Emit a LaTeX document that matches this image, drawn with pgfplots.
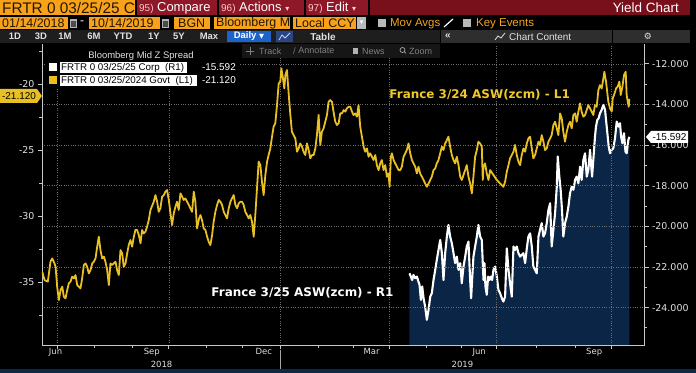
\documentclass[border=0pt]{standalone}
\usepackage{pgfplots}
\pgfplotsset{compat=1.18}
\usepackage{pgfplotstable}
\usepackage{fontspec}
\setmainfont{Liberation Sans}
\newfontfamily\dvs{DejaVu Sans}
\newcommand{\fs}[1]{\fontsize{#1}{#1}\selectfont}

\definecolor{bbyellow}{RGB}{232,192,36}
\definecolor{annyellow}{RGB}{240,200,40}
\definecolor{bbnavy}{RGB}{11,37,70}
\definecolor{bborange}{RGB}{248,162,28}
\definecolor{bbred}{RGB}{120,16,28}
\definecolor{bbred2}{RGB}{142,24,40}
\definecolor{rowgray}{RGB}{30,30,30}
\definecolor{panelgray}{RGB}{46,46,46}
\definecolor{gridgray}{RGB}{110,110,110}
\definecolor{axisgray}{RGB}{200,200,200}
\definecolor{labelgray}{RGB}{225,225,225}
\definecolor{darktext}{RGB}{35,22,0}
\definecolor{dailyblue}{RGB}{28,98,200}
\definecolor{stripnavy}{RGB}{14,40,72}
\definecolor{iconblue}{RGB}{40,70,130}
\definecolor{row4gray}{RGB}{22,22,22}

\pgfplotstableread{
x y
-196.4 -34.20
-194.5 -34.83
-191.8 -34.95
-189.6 -33.44
-188.2 -33.19
-186.3 -33.57
-185.4 -33.82
-184.1 -35.33
-182.7 -36.34
-181.3 -35.58
-179.9 -35.33
-178.6 -36.09
-177.2 -36.21
-175.8 -35.58
-174.5 -35.08
-173.1 -34.95
-171.7 -34.57
-170.3 -34.70
-169.0 -34.45
-167.6 -35.20
-166.2 -35.33
-164.9 -35.46
-163.5 -34.70
-162.1 -33.69
-160.7 -33.57
-159.4 -33.82
-158.0 -34.32
-156.6 -34.07
-155.2 -33.57
-153.9 -33.44
-152.5 -33.19
-151.1 -32.30
-149.8 -31.55
-148.4 -32.56
-147.0 -33.19
-145.6 -33.06
-144.3 -33.44
-142.9 -34.07
-141.5 -35.20
-140.2 -33.57
-138.8 -33.69
-137.4 -33.57
-136.0 -33.44
-134.7 -34.07
-133.3 -34.45
-131.9 -32.56
-130.5 -32.81
-129.2 -33.82
-127.8 -33.57
-126.4 -32.81
-125.1 -32.18
-123.7 -31.80
-122.3 -32.30
-120.9 -31.55
-119.6 -31.04
-118.2 -31.04
-116.8 -31.42
-115.4 -32.05
-114.1 -31.04
-112.7 -31.30
-111.3 -31.17
-110.0 -30.79
-108.6 -30.29
-107.2 -29.53
-104.5 -28.90
-103.1 -28.40
-101.7 -28.90
-100.4 -29.66
-99.0 -29.40
-97.6 -28.52
-96.2 -28.40
-94.9 -28.14
-93.5 -28.02
-92.1 -28.77
-90.7 -29.78
-89.4 -30.67
-88.0 -29.78
-86.6 -29.28
-85.3 -28.90
-83.9 -29.53
-82.5 -28.27
-81.1 -28.52
-79.8 -28.77
-78.4 -28.65
-77.0 -28.90
-75.6 -29.15
-74.3 -29.40
-72.9 -29.66
-71.5 -28.14
-70.2 -28.90
-68.8 -30.92
-67.1 -30.16
-66.0 -29.91
-64.7 -30.29
-63.3 -30.92
-61.9 -31.04
-60.5 -31.55
-59.2 -31.93
-57.8 -32.18
-56.4 -31.42
-55.1 -30.41
-53.7 -29.66
-52.3 -29.15
-50.9 -28.77
-49.6 -28.90
-48.2 -29.15
-46.8 -29.66
-45.5 -29.91
-44.1 -30.16
-42.7 -29.40
-41.3 -28.90
-40.0 -28.65
-38.6 -28.40
-37.2 -29.15
-35.8 -29.40
-34.5 -29.03
-33.1 -28.90
-31.7 -28.90
-30.4 -29.15
-29.0 -29.66
-27.6 -29.91
-26.2 -30.16
-24.9 -29.91
-23.5 -30.41
-22.1 -31.55
-20.8 -29.91
-19.4 -27.89
-18.0 -25.87
-16.6 -26.13
-15.3 -27.39
-13.9 -28.40
-12.5 -26.88
-11.1 -25.87
-9.8 -25.37
-8.4 -24.87
-7.0 -23.98
-5.7 -23.23
-4.3 -22.97
-2.9 -21.59
-1.5 -19.95
-0.2 -19.82
0.7 -18.81
2.0 -19.57
3.1 -20.33
4.0 -19.32
5.3 -18.94
6.7 -20.71
8.1 -22.34
9.4 -23.61
10.8 -23.86
12.2 -24.11
13.6 -25.12
14.9 -24.87
16.3 -24.49
17.7 -24.74
19.0 -25.12
20.4 -25.37
21.8 -24.49
23.2 -24.99
24.5 -25.62
25.9 -25.37
27.3 -25.37
28.7 -24.87
30.0 -23.86
31.4 -22.34
32.8 -24.61
34.1 -23.61
35.5 -23.35
36.9 -22.85
38.3 -22.34
39.6 -21.34
41.0 -21.21
42.4 -21.34
43.7 -22.09
45.1 -22.85
46.5 -23.10
47.9 -22.97
49.2 -22.22
50.6 -22.22
52.0 -21.97
53.4 -22.09
54.7 -21.84
56.1 -21.72
57.5 -21.72
58.9 -22.09
60.2 -22.34
61.6 -22.22
63.0 -22.47
64.3 -21.59
65.7 -23.23
67.1 -23.98
68.5 -24.74
69.8 -25.12
71.2 -24.87
72.6 -25.50
73.9 -25.24
75.3 -25.50
76.7 -25.75
78.1 -25.37
79.4 -26.13
80.8 -26.51
82.2 -26.00
83.5 -25.75
84.9 -26.51
86.3 -26.13
87.7 -27.01
89.0 -26.76
89.9 -27.77
91.0 -25.50
91.8 -25.24
93.2 -25.75
94.5 -26.00
95.9 -26.25
97.3 -26.51
98.7 -26.51
100.0 -26.25
101.4 -25.50
102.8 -25.24
104.1 -24.99
105.5 -24.49
106.9 -25.24
108.3 -25.75
109.6 -26.00
111.0 -26.25
112.4 -26.76
113.7 -26.25
115.1 -26.76
116.5 -27.01
117.9 -27.26
119.2 -27.52
120.6 -27.77
122.0 -27.52
123.4 -27.26
124.7 -27.01
126.1 -26.51
127.5 -26.38
128.8 -26.00
130.2 -25.75
131.6 -25.24
133.0 -24.74
134.3 -24.99
135.7 -24.49
137.1 -24.24
138.4 -23.98
139.8 -24.74
141.2 -25.37
142.6 -25.75
143.9 -26.00
145.3 -25.50
146.7 -26.13
148.1 -27.01
149.4 -27.26
150.8 -26.88
152.2 -26.51
153.5 -26.13
154.9 -27.01
156.3 -27.52
157.7 -28.27
159.0 -27.01
160.4 -25.50
161.8 -24.99
163.1 -24.36
164.5 -24.49
165.9 -24.74
166.7 -27.26
167.3 -26.25
168.6 -26.00
170.0 -26.76
171.4 -27.26
172.8 -26.51
175.5 -26.88
178.3 -27.26
181.0 -27.52
183.7 -27.77
185.1 -27.39
186.5 -26.63
187.9 -26.13
189.2 -25.62
192.0 -25.12
193.3 -24.61
194.7 -25.37
196.1 -25.88
197.5 -26.13
198.8 -25.37
200.2 -24.87
201.6 -25.12
203.0 -24.49
204.3 -24.11
205.7 -23.98
207.1 -24.87
208.4 -25.62
209.8 -25.37
211.2 -24.87
212.6 -24.36
213.9 -24.61
215.3 -23.86
216.7 -24.36
218.0 -24.99
219.4 -24.87
220.8 -24.36
222.2 -24.11
223.5 -23.86
224.9 -23.10
226.3 -22.85
227.7 -23.35
229.0 -23.86
230.4 -22.22
231.8 -22.60
233.1 -23.61
234.5 -24.36
235.9 -23.61
237.3 -23.10
238.6 -22.85
240.0 -23.35
241.4 -22.34
242.8 -22.22
244.1 -22.85
245.5 -22.09
246.9 -21.46
248.2 -22.09
249.6 -22.47
251.0 -22.34
252.4 -21.97
253.7 -21.59
255.1 -21.84
256.5 -22.09
257.8 -22.34
259.2 -21.59
260.6 -21.72
262.0 -20.45
263.3 -20.08
264.7 -20.33
266.1 -19.57
266.9 -19.07
268.3 -19.82
269.4 -20.71
270.2 -21.34
271.6 -21.84
273.0 -22.09
273.8 -21.08
274.9 -20.83
276.6 -20.33
277.9 -20.20
279.3 -19.82
280.4 -20.83
281.8 -20.20
283.1 -19.32
284.5 -19.07
285.3 -20.83
286.2 -21.34
287.0 -21.72
287.5 -21.12
}\yellowdata

\pgfplotstableread{
x y
106.3 -22.31
107.4 -22.47
108.5 -22.64
109.6 -22.39
111.0 -22.55
112.4 -22.47
113.7 -22.72
114.6 -22.88
115.7 -23.62
116.8 -22.96
117.9 -23.54
119.2 -23.95
120.6 -24.60
122.0 -24.11
123.4 -23.46
124.7 -23.29
126.1 -22.64
127.5 -22.14
128.8 -21.65
130.2 -21.16
131.6 -20.67
133.0 -21.32
134.3 -22.64
135.7 -21.32
137.1 -20.50
138.4 -19.93
139.8 -20.50
141.2 -20.83
142.6 -21.32
143.9 -21.81
145.3 -21.49
146.7 -22.14
148.1 -21.81
149.4 -22.80
150.8 -21.98
152.2 -21.49
153.5 -20.99
154.9 -20.75
156.3 -22.64
157.1 -23.54
157.9 -22.64
159.0 -21.49
160.4 -20.99
161.8 -20.50
163.1 -19.93
164.5 -20.50
165.9 -20.67
167.3 -22.64
168.1 -21.81
168.9 -22.96
170.0 -23.37
171.1 -22.47
172.2 -22.64
173.3 -22.47
174.4 -22.64
175.5 -22.14
176.9 -21.98
178.3 -22.47
179.6 -23.13
181.0 -23.29
182.4 -23.54
183.7 -23.70
185.1 -23.46
186.5 -21.08
187.9 -22.14
189.2 -22.80
190.6 -23.46
192.0 -20.99
193.3 -21.16
194.7 -20.99
196.1 -21.32
197.5 -21.49
198.8 -21.40
200.2 -21.32
201.6 -21.81
203.0 -21.08
204.3 -20.50
205.7 -20.34
207.1 -20.99
208.4 -21.98
209.8 -22.14
211.2 -22.31
212.6 -20.50
213.9 -20.17
215.3 -19.84
216.7 -20.50
218.0 -20.34
219.4 -19.84
220.8 -19.19
222.2 -18.86
223.5 -20.99
224.9 -20.17
226.3 -19.35
227.7 -18.04
228.5 -16.56
229.8 -17.55
230.9 -18.20
232.0 -19.19
233.1 -20.50
234.5 -19.84
235.9 -19.52
237.3 -19.02
238.6 -18.37
240.0 -18.04
241.4 -18.20
242.8 -17.71
244.1 -17.55
245.5 -17.88
246.9 -17.06
248.2 -17.71
249.6 -16.73
251.0 -16.40
252.4 -17.55
253.7 -17.22
255.1 -16.23
255.9 -16.89
256.8 -17.55
257.8 -16.73
259.2 -15.58
260.0 -15.09
261.1 -14.76
262.2 -14.68
263.3 -14.43
264.7 -14.26
266.1 -14.02
267.5 -14.26
268.3 -14.76
269.4 -15.41
270.5 -16.07
271.6 -16.40
273.0 -16.23
274.3 -16.15
275.7 -15.66
277.1 -14.84
278.5 -15.09
279.8 -14.92
280.7 -15.58
281.8 -15.91
283.1 -15.41
284.3 -16.32
285.3 -16.40
286.7 -15.74
287.5 -15.592
}\whitedata

% area under the white series: same points, closed at the bottom of the axis
\pgfplotstableread{
x y
106.3 -25.84
106.3 -22.31
107.4 -22.47
108.5 -22.64
109.6 -22.39
111.0 -22.55
112.4 -22.47
113.7 -22.72
114.6 -22.88
115.7 -23.62
116.8 -22.96
117.9 -23.54
119.2 -23.95
120.6 -24.60
122.0 -24.11
123.4 -23.46
124.7 -23.29
126.1 -22.64
127.5 -22.14
128.8 -21.65
130.2 -21.16
131.6 -20.67
133.0 -21.32
134.3 -22.64
135.7 -21.32
137.1 -20.50
138.4 -19.93
139.8 -20.50
141.2 -20.83
142.6 -21.32
143.9 -21.81
145.3 -21.49
146.7 -22.14
148.1 -21.81
149.4 -22.80
150.8 -21.98
152.2 -21.49
153.5 -20.99
154.9 -20.75
156.3 -22.64
157.1 -23.54
157.9 -22.64
159.0 -21.49
160.4 -20.99
161.8 -20.50
163.1 -19.93
164.5 -20.50
165.9 -20.67
167.3 -22.64
168.1 -21.81
168.9 -22.96
170.0 -23.37
171.1 -22.47
172.2 -22.64
173.3 -22.47
174.4 -22.64
175.5 -22.14
176.9 -21.98
178.3 -22.47
179.6 -23.13
181.0 -23.29
182.4 -23.54
183.7 -23.70
185.1 -23.46
186.5 -21.08
187.9 -22.14
189.2 -22.80
190.6 -23.46
192.0 -20.99
193.3 -21.16
194.7 -20.99
196.1 -21.32
197.5 -21.49
198.8 -21.40
200.2 -21.32
201.6 -21.81
203.0 -21.08
204.3 -20.50
205.7 -20.34
207.1 -20.99
208.4 -21.98
209.8 -22.14
211.2 -22.31
212.6 -20.50
213.9 -20.17
215.3 -19.84
216.7 -20.50
218.0 -20.34
219.4 -19.84
220.8 -19.19
222.2 -18.86
223.5 -20.99
224.9 -20.17
226.3 -19.35
227.7 -18.04
228.5 -16.56
229.8 -17.55
230.9 -18.20
232.0 -19.19
233.1 -20.50
234.5 -19.84
235.9 -19.52
237.3 -19.02
238.6 -18.37
240.0 -18.04
241.4 -18.20
242.8 -17.71
244.1 -17.55
245.5 -17.88
246.9 -17.06
248.2 -17.71
249.6 -16.73
251.0 -16.40
252.4 -17.55
253.7 -17.22
255.1 -16.23
255.9 -16.89
256.8 -17.55
257.8 -16.73
259.2 -15.58
260.0 -15.09
261.1 -14.76
262.2 -14.68
263.3 -14.43
264.7 -14.26
266.1 -14.02
267.5 -14.26
268.3 -14.76
269.4 -15.41
270.5 -16.07
271.6 -16.40
273.0 -16.23
274.3 -16.15
275.7 -15.66
277.1 -14.84
278.5 -15.09
279.8 -14.92
280.7 -15.58
281.8 -15.91
283.1 -15.41
284.3 -16.32
285.3 -16.40
286.7 -15.74
287.5 -15.592
287.5 -25.84
}\areadata

\begin{document}
\begin{tikzpicture}
\fill[black] (0,0) rectangle (696bp,373bp);

% ---------- right axis (white series, navy area) ----------
\begin{axis}[
  at={(42bp,28bp)}, anchor=south west,
  scale only axis, width=602.5bp, height=301bp,
  xmin=-196.6, xmax=300, ymin=-25.84, ymax=-11.02,
  axis x line*=bottom, axis y line*=right,
  axis line style={draw=axisgray, line width=0.8bp, -},
  axis on top,
  xtick={-184,-92,0,90,178,273},
  xticklabels={,,,,,},
  minor xtick={-153,-122,-61,-31,31,60,120,149,211,243},
  extra x ticks={-185.4,-106.1,-13.8,75.0,163.7,258.5},
  extra x tick labels={Jun,Sep,Dec,Mar,Jun,Sep},
  extra x tick style={grid=none, major tick length=0pt},
  ytick={-24,-22,-20,-18,-16,-14,-12},
  minor ytick={-25,-23,-21,-19,-17,-15,-13},
  grid=major,
  major grid style={draw=gridgray, dotted, line width=0.6bp},
  tick align=outside,
  major tick length=4bp, minor tick length=2.5bp,
  tick style={draw=axisgray, line width=1bp},
  tick label style={font=\dvs\fs{9.5}, text=labelgray},
  xticklabel style={font=\dvs\fs{8.5}},
  yticklabel style={/pgf/number format/fixed, /pgf/number format/fixed zerofill, /pgf/number format/precision=3},
  /pgf/number format/assume math mode=true,
]
\addplot[fill=bbnavy, draw=none] table {\areadata} -- cycle;
\addplot[white, line width=2.1bp, line join=round] table {\whitedata};
\end{axis}

% ---------- left axis (yellow series) ----------
\begin{axis}[
  at={(42bp,28bp)}, anchor=south west,
  scale only axis, width=602.5bp, height=301bp,
  xmin=-196.6, xmax=300, ymin=-39.74, ymax=-16.97,
  axis x line=none, axis y line*=left,
  axis line style={draw=axisgray, line width=0.8bp, -},
  ytick={-35,-30,-25,-20},
  minor ytick={-37.5,-32.5,-27.5,-22.5,-17.5},
  tick align=outside,
  major tick length=4bp, minor tick length=2.5bp,
  tick style={draw=axisgray, line width=1bp},
  tick label style={font=\dvs\fs{9.5}, text=labelgray},
  /pgf/number format/assume math mode=true,
]
\addplot[bbyellow, line width=1.8bp, line join=round] table {\yellowdata};
\end{axis}

% ---------- terminal chrome (image coordinates) ----------
\begin{scope}[x=1bp, y=-1bp, shift={(0bp,373bp)}]
% row 1
\fill[bborange] (0,0) rectangle (135,15);
\begin{scope}
\clip (0,0) rectangle (135,15);
\node[anchor=west, inner sep=0, text=darktext, font=\fs{15.4}] at (2,8) {FRTR 0 03/25/25 Co};
\end{scope}
\fill[bbred2] (137,0) rectangle (217,15);
\node[anchor=west, inner sep=0, text=white, font=\fs{13}] at (139,8) {{\fs{10}\color{white!80!red}95)} Compare};
\fill[bbred2] (219,0) rectangle (304,15);
\node[anchor=west, inner sep=0, text=white, font=\fs{13}] at (221,8) {{\fs{10}\color{white!80!red}96)} Actions {\dvs\fs{8}\color{white!80!red}▾}};
\fill[bbred2] (306,0) rectangle (368,15);
\node[anchor=west, inner sep=0, text=white, font=\fs{13}] at (308,8) {{\fs{10}\color{white!80!red}97)} Edit {\dvs\fs{8}\color{white!80!red}▾}};
\fill[bbred] (370,0) rectangle (690,15);
\node[anchor=east, inner sep=0, text=white, font=\fs{13.5}] at (679,8) {Yield Chart};

% row 2
\fill[bborange] (0,17) rectangle (68,29);
\node[anchor=west, inner sep=0, text=darktext, font=\fs{12.5}] at (2,23.5) {01/14/2018};
\fill[gray!60] (70,19) rectangle (77,28);
\fill[black!70] (71,21) rectangle (76,27);
\node[inner sep=0, text=white, font=\fs{12}] at (82,23) {-};
\fill[bborange] (89,17) rectangle (160,29);
\node[anchor=west, inner sep=0, text=darktext, font=\fs{12.5}] at (91,23.5) {10/14/2019};
\fill[gray!60] (162,19) rectangle (169,28);
\fill[black!70] (163,21) rectangle (168,27);
\fill[bborange] (174,17) rectangle (210,29);
\node[anchor=west, inner sep=0, text=darktext, font=\fs{12.5}] at (178,23.5) {BGN};
\fill[bborange] (214,17) rectangle (290,29);
\begin{scope}
\clip (214,17) rectangle (290,29);
\node[anchor=west, inner sep=0, text=darktext, font=\fs{12.5}] at (216,23.5) {Bloomberg Mid};
\end{scope}
\fill[bborange] (293,17) rectangle (356,29);
\node[anchor=west, inner sep=0, text=darktext, font=\fs{12.5}] at (295,23.5) {Local CCY};
\fill[gray!55] (357,17) rectangle (366,29);
\node[inner sep=0, text=white, font=\dvs\fs{7}] at (361.5,23) {▾};
\fill[gray!55] (378,19.5) rectangle (386,27.5);
\node[anchor=west, inner sep=0, text=bborange, font=\fs{11.5}] at (390,23.5) {Mov Avgs};
\draw[white, line width=1.2bp] (444,27) -- (453,19);
\fill[gray!55] (463,19.5) rectangle (471,27.5);
\node[anchor=west, inner sep=0, text=bborange, font=\fs{11.5}] at (476,23.5) {Key Events};

% row 3
\fill[rowgray] (0,30) rectangle (440,43);
\fill[panelgray] (440,30) rectangle (690,43);
\foreach \lab/\xx in {1D/15, 3D/41, 1M/65, 6M/94, YTD/123, 1Y/154, 5Y/179, Max/209}{
  \node[inner sep=0, text=labelgray, font=\bfseries\fs{9.5}] at (\xx,36.5) {\lab};
}
\fill[dailyblue] (227,31) rectangle (271,42);
\node[inner sep=0, text=white, font=\bfseries\fs{9.5}] at (249,36.5) {Daily {\dvs\fs{6.5}▼}};
\fill[iconblue] (276,31) rectangle (293,42);
\draw[white!80!blue, line width=0.8bp] (279,40) -- (282,35) -- (285,38) -- (290,33);
\node[inner sep=0, text=labelgray, font=\bfseries\fs{10}] at (323,36.5) {Table};
\draw[black, line width=1bp] (440,30) -- (440,43);
\node[inner sep=0, text=labelgray, font=\bfseries\fs{10}] at (448,36) {«};
\draw[labelgray, line width=0.8bp] (495,40) -- (498,36) -- (501,38) -- (505,33);
\node[anchor=west, inner sep=0, text=labelgray, font=\fs{10}] at (509,36.5) {Chart Content};
\draw[black, line width=1bp] (612,30) -- (612,43);
\node[inner sep=0, text=labelgray, font=\dvs\fs{9}] at (648,36.5) {⚙};

% legend background
\fill[black] (46,45) rectangle (240,88);

% row 4 overlay
\fill[row4gray] (242,44) rectangle (440,58);
\draw[gray, line width=0.7bp] (246,51) -- (254,51) (250,47) -- (250,55);
\node[anchor=west, inner sep=0, text=gray, font=\fs{9}] at (259,51) {Track};
\node[anchor=west, inner sep=0, text=gray, font=\fs{9}] at (293,51) {{\dvs\fs{8}∕} Annotate};
\fill[gray!60] (353,48) rectangle (358,54);
\node[anchor=west, inner sep=0, text=gray, font=\fs{9}] at (362,51) {News};
\draw[gray!70, line width=0.7bp] (402.5,50) circle (2.5) (404.3,51.8) -- (406,53.5);
\node[anchor=west, inner sep=0, text=gray, font=\fs{9}] at (409,51) {Zoom};

% legend
\node[inner sep=0, text=labelgray, font=\fs{9.5}] at (141,56) {Bloomberg Mid Z Spread};
\fill[white] (49,63) rectangle (57,71);
\fill[white] (60,62) rectangle (187,73);
\node[anchor=west, inner sep=0, text=black, font=\fs{9.8}] at (61,67.5) {FRTR 0 03/25/25 Corp\ \ (R1)};
\node[anchor=east, inner sep=0, text=white, font=\fs{10}] at (236,67.5) {-15.592};
\fill[bbyellow] (49,76) rectangle (57,84);
\fill[white] (60,75) rectangle (197,86);
\node[anchor=west, inner sep=0, text=black, font=\fs{9.8}] at (61,80.5) {FRTR 0 03/25/2024 Govt\ \ (L1)};
\node[anchor=east, inner sep=0, text=white, font=\fs{10}] at (236,80.5) {-21.120};

% value tags
\fill[bbyellow] (0,89) -- (37,89) -- (42,96) -- (37,103) -- (0,103) -- cycle;
\node[inner sep=0, text=black, font=\fs{10}] at (19,96) {-21.120};
\fill[white] (646,137) -- (651,131) -- (688,131) -- (688,143) -- (651,143) -- cycle;
\node[inner sep=0, text=black, font=\fs{10}] at (669.5,137) {-15.592};

% annotations
\node[inner sep=0, text=annyellow, font=\dvs\bfseries\fs{12}] at (479.7,95) {France 3/24 ASW(zcm) - L1};
\node[inner sep=0, text=white, font=\dvs\bfseries\fs{12}] at (302.5,293) {France 3/25 ASW(zcm) - R1};

% bottom
\draw[gray!70, line width=0.6bp] (280.5,350) -- (280.5,369);
\node[inner sep=0, text=labelgray, font=\dvs\fs{8.5}] at (161.6,364) {2018};
\node[inner sep=0, text=labelgray, font=\dvs\fs{8.5}] at (462.5,364) {2019};
\fill[stripnavy] (0,369) rectangle (696,373);
\end{scope}
\pgfresetboundingbox
\path[use as bounding box] (0,0) rectangle (696bp,373bp);
\end{tikzpicture}
\end{document}
